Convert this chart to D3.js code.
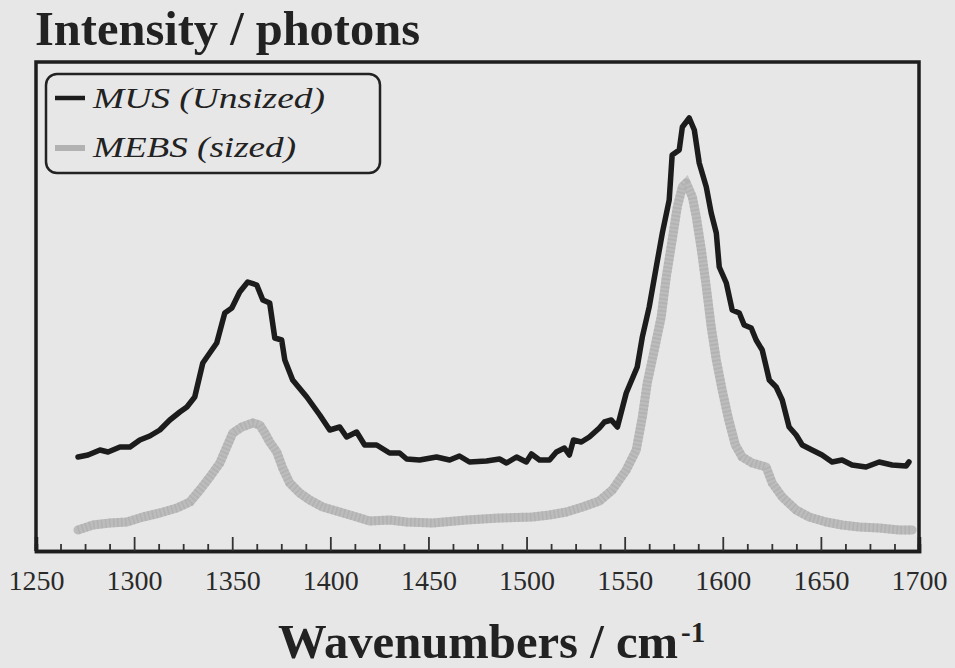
<!DOCTYPE html>
<html><head><meta charset="utf-8">
<script src="https://cdn.jsdelivr.net/npm/d3@7"></script>
<style>
html,body{margin:0;padding:0;background:#e7e7e7;}
svg{display:block;}
</style></head>
<body>
<svg id="chart" width="955" height="668"></svg>
<script>
// ---- data ----
const musWavenumbers = [1271.4,1276.5,1282.6,1286.7,1292.8,1297.9,1302.9,1308.0,1313.1,1318.2,1323.3,1326.9,1330.9,1335.0,1339.6,1342.1,1346.2,1349.8,1353.8,1357.9,1362.5,1365.6,1369.1,1371.7,1375.2,1376.8,1380.8,1388.0,1394.6,1399.7,1404.8,1408.3,1413.4,1417.5,1423.6,1430.2,1435.3,1438.9,1445.5,1454.1,1460.8,1465.8,1470.9,1479.6,1486.2,1489.8,1494.9,1499.9,1502.5,1506.6,1511.7,1515.2,1519.3,1521.8,1523.9,1527.9,1532.0,1537.1,1539.7,1543.2,1546.3,1550.8,1556.4,1559.0,1562.5,1566.1,1569.2,1572.7,1574.2,1577.8,1579.4,1582.9,1585.5,1588.0,1591.6,1594.1,1596.7,1598.2,1601.8,1604.8,1608.4,1610.9,1614.5,1617.0,1620.1,1623.7,1627.2,1630.3,1633.8,1637.4,1640.5,1645.5,1650.6,1655.7,1660.8,1665.9,1673.0,1679.7,1686.3,1693.4,1694.9];
const musIntensity = [940,960,1010,990,1040,1040,1110,1150,1210,1310,1390,1440,1540,1880,2010,2080,2380,2430,2590,2690,2660,2510,2480,2130,2110,1910,1710,1540,1360,1210,1240,1140,1190,1060,1060,980,980,920,910,940,910,950,890,900,920,880,940,890,970,910,910,990,1030,960,1110,1090,1140,1230,1290,1310,1240,1580,1840,2140,2440,2840,3180,3510,3960,4010,4240,4330,4210,3880,3640,3380,3180,2840,2680,2410,2380,2260,2230,2110,2010,1710,1640,1510,1240,1160,1060,1010,960,890,910,860,840,890,860,850,890];
const mebsWavenumbers = [1271.4,1279.0,1287.7,1296.3,1304.5,1313.1,1321.8,1328.4,1333.5,1338.6,1343.7,1347.2,1350.3,1354.9,1360.5,1364.0,1366.6,1369.1,1372.7,1375.7,1379.3,1384.4,1389.5,1396.1,1404.8,1413.4,1420.0,1430.2,1438.9,1452.1,1469.4,1486.2,1503.0,1511.7,1520.3,1528.5,1537.1,1543.7,1550.8,1555.9,1559.0,1561.5,1565.1,1568.6,1571.2,1574.2,1576.8,1579.4,1581.4,1584.5,1586.5,1589.1,1591.6,1594.1,1596.7,1599.7,1602.8,1606.4,1609.9,1615.0,1622.1,1625.2,1630.3,1637.4,1644.0,1652.7,1660.8,1669.5,1679.7,1689.8,1696.5];
const mebsIntensity = [210,260,280,290,340,380,430,490,610,740,880,1040,1180,1240,1280,1260,1180,1090,990,830,680,580,510,440,390,340,300,310,290,280,310,330,340,360,390,440,500,610,810,1010,1340,1680,2010,2340,2740,3110,3440,3640,3680,3540,3340,3010,2640,2240,1910,1610,1330,1060,940,880,840,680,540,410,340,290,260,240,230,210,210];
const xTickValues = [1250,1300,1350,1400,1450,1500,1550,1600,1650,1700];
const legendLabels = ["MUS (Unsized)","MEBS (sized)"];
const yLabel = "Intensity / photons";
const xLabel = "Wavenumbers / cm";

// ---- layout ----
const svg = d3.select("#chart");
const L = 36, R = 919, T = 62, B = 551;
const x = d3.scaleLinear().domain([1250,1700]).range([L,R]);
const y = d3.scaleLinear().domain([0,4890]).range([B,T]);
const serif = "'Liberation Serif', 'Times New Roman', serif";

svg.append("rect").attr("width",955).attr("height",668).attr("fill","#e7e7e7");

const line = d3.line().x(d=>x(d[0])).y(d=>y(d[1])).curve(d3.curveLinear);
const mebs = mebsWavenumbers.map((w,i)=>[w,mebsIntensity[i]]);
const mus = musWavenumbers.map((w,i)=>[w,musIntensity[i]]);

svg.append("path").datum(mebs).attr("d",line).attr("fill","none")
  .attr("stroke","#bcbcbc").attr("stroke-width",9).attr("stroke-linejoin","round").attr("stroke-linecap","round");
svg.append("path").datum(mebs).attr("d",line).attr("fill","none")
  .attr("stroke","#a8a8a8").attr("stroke-width",9).attr("stroke-dasharray","1.5 2.5").attr("opacity",0.5);
svg.append("path").datum(mus).attr("d",line).attr("fill","none")
  .attr("stroke","#1c1c1c").attr("stroke-width",5.5).attr("stroke-linejoin","round").attr("stroke-linecap","round");

// frame
svg.append("path").attr("d",`M${L},${B}V${T}H${R}V${B}`).attr("fill","none")
  .attr("stroke","#1e1e1e").attr("stroke-width",3.5);

// x axis
const minorTicks = d3.range(1262.5,1700,12.5).filter(v=>v%50!==0);
const gMinor = svg.append("g").attr("transform",`translate(0,${B})`)
  .call(d3.axisBottom(x).tickValues(minorTicks).tickSize(-7).tickFormat(""));
const gMajor = svg.append("g").attr("transform",`translate(0,${B})`)
  .call(d3.axisBottom(x).tickValues(xTickValues).tickSize(-14).tickPadding(0).tickFormat(d3.format("d")));
[gMinor,gMajor].forEach(g=>{
  g.select(".domain").attr("stroke","#1e1e1e").attr("stroke-width",3.5);
  g.selectAll(".tick line").attr("stroke","#333").attr("stroke-width",1.8);
});
gMajor.selectAll(".tick line").filter(d=>d===1250||d===1700).remove();
gMajor.selectAll(".tick text").attr("y",39).attr("dy",null)
  .attr("font-family",serif).attr("font-size",28).attr("fill","#2a2a2a");

// titles
svg.append("text").attr("x",35).attr("y",45).text(yLabel)
  .attr("textLength",385).attr("lengthAdjust","spacingAndGlyphs")
  .attr("font-family",serif).attr("font-weight","bold").attr("font-size",48).attr("fill","#222");
svg.append("text").attr("x",278).attr("y",658).text(xLabel)
  .attr("textLength",400).attr("lengthAdjust","spacingAndGlyphs")
  .attr("font-family",serif).attr("font-weight","bold").attr("font-size",48).attr("fill","#222");
svg.append("text").attr("x",681).attr("y",642).text("-1")
  .attr("font-family",serif).attr("font-weight","bold").attr("font-size",29).attr("fill","#222");

// legend
svg.append("rect").attr("x",46).attr("y",74).attr("width",334).attr("height",99).attr("rx",11)
  .attr("fill","none").attr("stroke","#222").attr("stroke-width",2.5);
svg.append("line").attr("x1",55).attr("x2",85).attr("y1",98).attr("y2",98)
  .attr("stroke","#1c1c1c").attr("stroke-width",4.5);
svg.append("line").attr("x1",55).attr("x2",85).attr("y1",148).attr("y2",148)
  .attr("stroke","#b2b2b2").attr("stroke-width",6);
const legendWidths = [232, 203];
legendLabels.forEach((t,i)=>{
  svg.append("text").attr("x",93).attr("y",108+i*49).text(t)
    .attr("textLength",legendWidths[i]).attr("lengthAdjust","spacingAndGlyphs")
    .attr("font-family",serif).attr("font-style","italic").attr("font-size",30).attr("fill","#222");
});
</script>
</body></html>
